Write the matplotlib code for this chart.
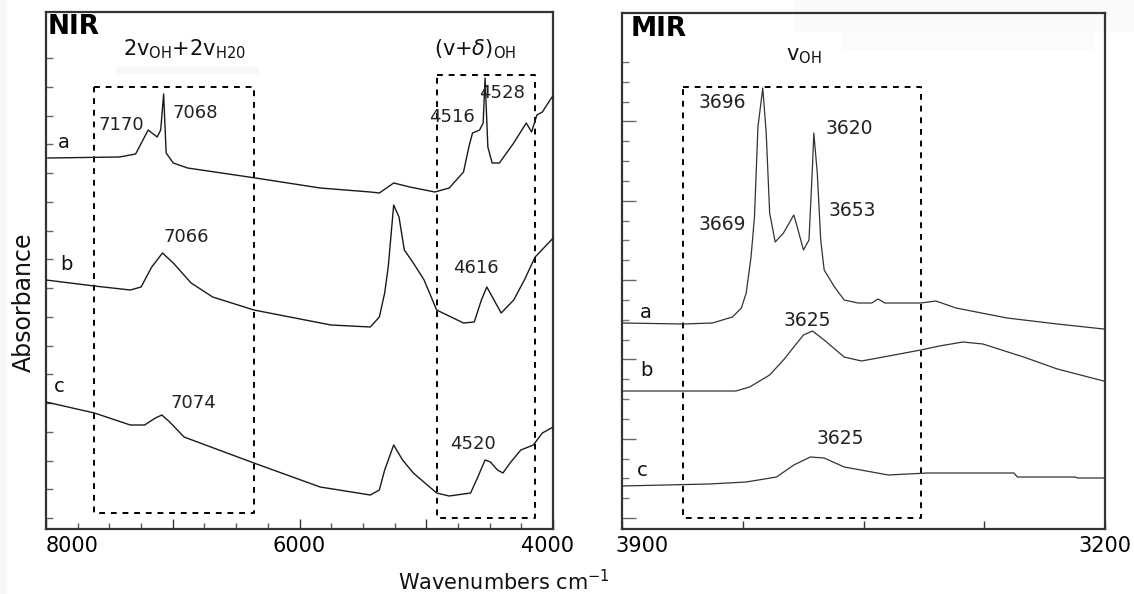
import matplotlib
matplotlib.use("Agg")
import matplotlib.pyplot as plt
import matplotlib.transforms as mtrans
from matplotlib.patches import Rectangle
import numpy as np

plt.rcParams['font.family'] = ['DejaVu Sans']
plt.rcParams['mathtext.fontset'] = 'dejavusans'

# ---------------- data (wavenumber cm-1, absorbance a.u.) ----------------
nir_a_wn = [7985, 7420, 7293, 7194, 7123, 7095, 7072, 7052, 6996, 6883, 6346, 5837,
            5441, 5370, 5257, 5130, 4932, 4819, 4706, 4664, 4635, 4579, 4551, 4536,
            4514, 4480, 4423, 4310, 4211, 4169, 4127, 4084, 4013, 4000]
nir_a_abs = [371, 372, 375, 399, 392, 399, 435, 376, 366, 361, 351, 341,
             337, 336, 346, 342, 337, 341, 357, 382, 396, 399, 406, 451,
             382, 366, 366, 386, 406, 397, 414, 417, 431, 433]

nir_b_wn = [8000, 7618, 7335, 7250, 7166, 7081, 6996, 6855, 6685, 6360, 5752, 5441,
            5370, 5328, 5300, 5257, 5215, 5173, 5102, 5017, 4918, 4706, 4621, 4565,
            4522, 4409, 4310, 4226, 4141, 4013, 4000]
nir_b_abs = [249, 243, 239, 242, 262, 276, 266, 246, 232, 219, 204, 202,
             212, 236, 262, 324, 312, 279, 266, 249, 219, 206, 207, 229,
             242, 216, 229, 249, 272, 289, 291]

nir_c_wn = [8000, 7618, 7335, 7222, 7137, 7086, 7024, 6911, 6360, 5837, 5441, 5370,
            5328, 5257, 5187, 5102, 4918, 4819, 4650, 4593, 4536, 4494, 4438, 4395,
            4339, 4254, 4155, 4084, 4013, 4000]
nir_c_abs = [127, 116, 104, 104, 111, 114, 107, 92, 66, 42, 34, 39,
             59, 84, 69, 56, 36, 33, 36, 52, 69, 67, 59, 56,
             66, 79, 84, 96, 101, 102]

mir_a_wn = [3900, 3811, 3769, 3740, 3727, 3720, 3713, 3708, 3703, 3696, 3691, 3686,
            3678, 3666, 3651, 3646, 3637, 3629, 3624, 3622, 3617, 3612, 3607, 3592,
            3578, 3558, 3538, 3529, 3519, 3467, 3445, 3416, 3342, 3269, 3202]
mir_a_abs = [206, 205, 206, 212, 221, 236, 272, 312, 402, 441, 396, 316,
             287, 296, 314, 302, 279, 289, 362, 396, 356, 289, 259, 242,
             229, 226, 226, 230, 226, 226, 228, 221, 211, 205, 200]

mir_b_wn = [3900, 3735, 3715, 3686, 3666, 3651, 3637, 3624, 3607, 3578, 3553, 3529,
            3467, 3440, 3406, 3377, 3318, 3269, 3202]
mir_b_abs = [138, 138, 142, 154, 169, 182, 194, 198, 189, 172, 168, 171,
             179, 183, 187, 185, 172, 160, 148]

mir_c_wn = [3900, 3774, 3720, 3676, 3651, 3627, 3607, 3578, 3514, 3457, 3332, 3327,
            3244, 3239, 3202]
mir_c_abs = [43, 45, 47, 52, 64, 72, 71, 62, 54, 56, 56, 52, 52, 51, 51]

# dashed marker boxes: (wn_left, wn_right, abs_bottom, abs_top)
nir_boxes = [(7618, 6360, 16, 442), (4918, 4141, 11, 454)]
mir_boxes = [(3811, 3466, 11, 442)]

# peak labels: (text, wn, abs)
nir_peaks = [("7170", 7404, 404), ("7068", 6824, 416), ("4516", 4797, 412),
             ("4528", 4402, 436), ("7066", 6895, 292), ("4616", 4607, 261),
             ("7074", 6840, 126), ("4520", 4635, 85)]
mir_peaks = [("3696", 3754, 426), ("3669", 3754, 305), ("3620", 3570, 401),
             ("3653", 3566, 319), ("3625", 3632, 208), ("3625", 3584, 91)]
nir_series = [("a", 7858, 386), ("b", 7842, 264), ("c", 7897, 142)]
mir_series = [("a", 3865, 217), ("b", 3865, 159), ("c", 3871, 58)]

nir_xticks = [8000, 7000, 6000, 5000, 4000]
nir_xticklabels = ["8000", "", "6000", "", "4000"]
mir_xticks = [3900, 3725, 3550, 3375, 3200]
mir_xticklabels = ["3900", "", "", "", "3200"]

# ---------------- figure ----------------
W, H = 1134, 594
fig = plt.figure(figsize=(W / 100, H / 100), dpi=100)
fig.patch.set_facecolor("white")

# faint scan artefacts (behind everything)
fig.patches.append(Rectangle((0, 0), 6 / W, 1, transform=fig.transFigure,
                             color="#f7f7f7", zorder=-5))
fig.patches.append(Rectangle((795 / W, 1 - 30 / H), (W - 795) / W, 30 / H,
                             transform=fig.transFigure, color="#fafafa", zorder=-5))

axL = fig.add_axes([46 / W, (H - 529) / H, 507 / W, 517 / H])
axR = fig.add_axes([622 / W, (H - 529) / H, 483 / W, 516 / H])

FRAME = "#333333"
for ax in (axL, axR):
    ax.set_facecolor("none")
    for sp in ax.spines.values():
        sp.set_color(FRAME)
        sp.set_linewidth(1.6)

# ---- NIR panel ----
axL.set_xlim(8000, 4000)
axL.set_ylim(0, 517)
for wn, ab in ((nir_a_wn, nir_a_abs), (nir_b_wn, nir_b_abs), (nir_c_wn, nir_c_abs)):
    axL.plot(wn, ab, color="#1a1a1a", lw=1.0, zorder=3)
for x0, x1, y0, y1 in nir_boxes:
    axL.plot([x0, x1, x1, x0, x0], [y1, y1, y0, y0, y1], color="black",
             lw=1.4, ls=(0, (3, 3)), zorder=2)
axL.add_patch(Rectangle((6319, 455), 1129, 8, color="#f8f8f8", lw=0, zorder=1))

axL.set_xticks(nir_xticks)
axL.set_xticklabels(nir_xticklabels)
axL.set_xticks(np.arange(4000, 8001, 250), minor=True)
axL.set_yticks(11 + 28.75 * np.arange(17))
axL.set_yticklabels([])
axL.tick_params(axis="x", which="major", direction="in", length=7, width=1.0,
                color=FRAME, labelsize=15, pad=5)
axL.tick_params(axis="x", which="minor", direction="in", length=4, width=1.0,
                color="#555555")
axL.tick_params(axis="y", direction="in", length=5, width=1.0, color="#666666")

axL.text(7984, 502, "NIR", fontsize=19, fontweight="bold", ha="left", va="center")
axL.text(6911, 474, r"2v$_{\mathrm{OH}}$+2v$_{\mathrm{H20}}$", fontsize=15,
         ha="center", va="baseline", color="#111111")
axL.text(4615, 474, r"(v+$\delta$)$_{\mathrm{OH}}$", fontsize=15,
         ha="center", va="baseline", color="#111111")
for t, x, y in nir_peaks:
    axL.text(x, y, t, fontsize=13, ha="center", va="center", color="#222222")
for t, x, y in nir_series:
    axL.text(x, y, t, fontsize=14, ha="center", va="center", color="#111111")

# ---- MIR panel ----
axR.set_xlim(3900, 3200)
axR.set_ylim(0, 516)
for wn, ab in ((mir_a_wn, mir_a_abs), (mir_b_wn, mir_b_abs), (mir_c_wn, mir_c_abs)):
    axR.plot(wn, ab, color="#333333", lw=0.9, zorder=3)
for x0, x1, y0, y1 in mir_boxes:
    axR.plot([x0, x1, x1, x0, x0], [y1, y1, y0, y0, y1], color="black",
             lw=1.4, ls=(0, (3, 3)), zorder=2)
axR.add_patch(Rectangle((3217, 479), 363, 20, color="#fbfbfb", lw=0, zorder=1))

axR.set_xticks(mir_xticks)
axR.set_xticklabels(mir_xticklabels)
yt = 11 + 19.83 * np.arange(24)
axR.set_yticks(yt[::4])
axR.set_yticks(yt, minor=True)
axR.set_yticklabels([])
axR.tick_params(axis="x", which="major", direction="in", length=6, width=1.0,
                color=FRAME, labelsize=15, pad=5)
axR.tick_params(axis="y", which="major", direction="in", length=10, width=1.0,
                color="#666666")
axR.tick_params(axis="y", which="minor", direction="in", length=5, width=1.0,
                color="#777777")

axR.text(3888, 500, "MIR", fontsize=19, fontweight="bold", ha="left", va="center")
axR.text(3636, 469, r"v$_{\mathrm{OH}}$", fontsize=15, ha="center", va="baseline",
         color="#111111")
for t, x, y in mir_peaks:
    axR.text(x, y, t, fontsize=13.5, ha="center", va="center", color="#222222")
for t, x, y in mir_series:
    axR.text(x, y, t, fontsize=14, ha="center", va="center", color="#111111")

# tick label alignment like the original
labs = axL.get_xticklabels()
labs[0].set_ha("left")
labsR = axR.get_xticklabels()
labsR[0].set_ha("left")
labsR[0].set_transform(labsR[0].get_transform() +
                       mtrans.ScaledTranslation(-7 / 100, 0, fig.dpi_scale_trans))
labs[-1].set_transform(labs[-1].get_transform() +
                       mtrans.ScaledTranslation(-5 / 100, 0, fig.dpi_scale_trans))

fig.text(24 / W, 1 - 302 / H, "Absorbance", rotation=90, fontsize=17,
         ha="center", va="center", color="#111111")
fig.text(504 / W, 1 - 582 / H, r"Wavenumbers cm$^{-1}$", fontsize=15,
         ha="center", va="center", color="#111111")

fig.savefig("out.png", dpi=100, facecolor="white")
